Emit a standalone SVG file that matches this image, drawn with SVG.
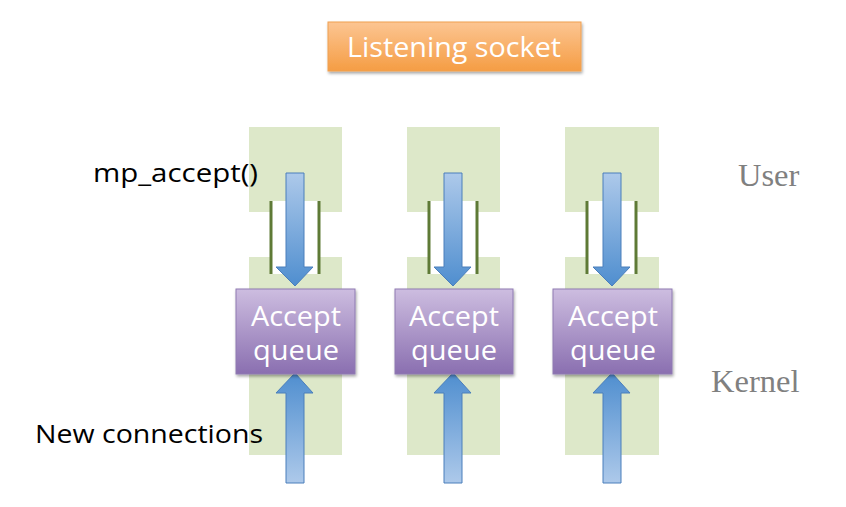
<svg xmlns="http://www.w3.org/2000/svg" width="846" height="507" viewBox="0 0 846 507">
<defs>
<linearGradient id="gOrange" x1="0" y1="0" x2="0" y2="1"><stop offset="0" stop-color="#fcc592"/><stop offset="1" stop-color="#f59d44"/></linearGradient>
<linearGradient id="gPurple" x1="0" y1="0" x2="0" y2="1"><stop offset="0" stop-color="#cdbde0"/><stop offset="1" stop-color="#8a6fb0"/></linearGradient>
<linearGradient id="gDown" x1="0" y1="0" x2="0" y2="1"><stop offset="0" stop-color="#adc9ea"/><stop offset="1" stop-color="#4f8ecf"/></linearGradient>
<linearGradient id="gUp" x1="0" y1="1" x2="0" y2="0"><stop offset="0" stop-color="#adc9ea"/><stop offset="1" stop-color="#4f8ecf"/></linearGradient>
<filter id="sh" x="-10%" y="-10%" width="130%" height="130%"><feDropShadow dx="1" dy="2" stdDeviation="1.5" flood-color="#000" flood-opacity="0.35"/></filter>
<path id="down" d="M-9,173 H9 V267 H18 L0,286 L-19,267 H-9 Z"/>
<path id="up" d="M-9,483 H9 V393 H18 L0,373 L-19,393 H-9 Z"/>
</defs>
<style>
.zone{fill:#dde8c9}
.bar{stroke:#5e7a36;stroke-width:3}
.q{fill:url(#gPurple);stroke:#8f7bb2;stroke-width:1}
.qt{font-family:"Open Sans","Liberation Sans",sans-serif;font-size:27px;fill:#fff;text-anchor:middle}
.lbl{font-family:"Open Sans","Liberation Sans",sans-serif;font-size:26px;fill:#000}
.side{font-family:"Liberation Serif",serif;font-size:32.5px;fill:#808080}
.ad{fill:url(#gDown);stroke:#4a7ebb;stroke-width:1}
.au{fill:url(#gUp);stroke:#4a7ebb;stroke-width:1}
</style>
<rect width="846" height="507" fill="#fff"/>
<g id="zones">
<rect class="zone" x="249" y="127" width="93" height="85"/>
<rect class="zone" x="249" y="257" width="93" height="198"/>
<rect class="zone" x="407" y="127" width="93" height="85"/>
<rect class="zone" x="407" y="257" width="93" height="198"/>
<rect class="zone" x="565" y="127" width="94" height="85"/>
<rect class="zone" x="565" y="257" width="94" height="198"/>
</g>
<g id="bars">
<rect x="271" y="201" width="48" height="73" fill="#fff"/>
<rect x="429" y="201" width="48" height="73" fill="#fff"/>
<rect x="587" y="201" width="49" height="73" fill="#fff"/>
<line class="bar" x1="271" y1="201" x2="271" y2="274"/><line class="bar" x1="319" y1="201" x2="319" y2="274"/>
<line class="bar" x1="429" y1="201" x2="429" y2="274"/><line class="bar" x1="477" y1="201" x2="477" y2="274"/>
<line class="bar" x1="587" y1="201" x2="587" y2="274"/><line class="bar" x1="636" y1="201" x2="636" y2="274"/>
</g>
<g id="listening-socket">
<rect x="328" y="22" width="253" height="49" fill="url(#gOrange)" stroke="#f0a050" stroke-width="1" filter="url(#sh)"/>
<text x="454" y="57" font-family="Open Sans, Liberation Sans, sans-serif" font-size="27" fill="#fff" text-anchor="middle" textLength="214" lengthAdjust="spacingAndGlyphs">Listening socket</text>
</g>
<g id="connectors">
<use href="#down" class="ad" x="295"/>
<use href="#down" class="ad" x="453"/>
<use href="#down" class="ad" x="612"/>
<use href="#up" class="au" x="295"/>
<use href="#up" class="au" x="453"/>
<use href="#up" class="au" x="612"/>
</g>
<g id="queue1">
<rect class="q" x="236" y="289" width="119" height="85" filter="url(#sh)"/>
<text class="qt" x="296" y="326" textLength="90" lengthAdjust="spacingAndGlyphs">Accept</text><text class="qt" x="296" y="360" textLength="86" lengthAdjust="spacingAndGlyphs">queue</text>
</g>
<g id="queue2">
<rect class="q" x="395" y="289" width="118" height="85" filter="url(#sh)"/>
<text class="qt" x="454" y="326" textLength="90" lengthAdjust="spacingAndGlyphs">Accept</text><text class="qt" x="454" y="360" textLength="86" lengthAdjust="spacingAndGlyphs">queue</text>
</g>
<g id="queue3">
<rect class="q" x="553" y="289" width="119" height="85" filter="url(#sh)"/>
<text class="qt" x="613" y="326" textLength="90" lengthAdjust="spacingAndGlyphs">Accept</text><text class="qt" x="613" y="360" textLength="86" lengthAdjust="spacingAndGlyphs">queue</text>
</g>
<g id="labels">
<text class="lbl" x="93" y="182" textLength="165" lengthAdjust="spacingAndGlyphs">mp_accept()</text>
<text class="lbl" x="35" y="443" textLength="228" lengthAdjust="spacingAndGlyphs">New connections</text>
<text class="side" x="738" y="186">User</text>
<text class="side" x="711" y="392">Kernel</text>
</g>
</svg>
